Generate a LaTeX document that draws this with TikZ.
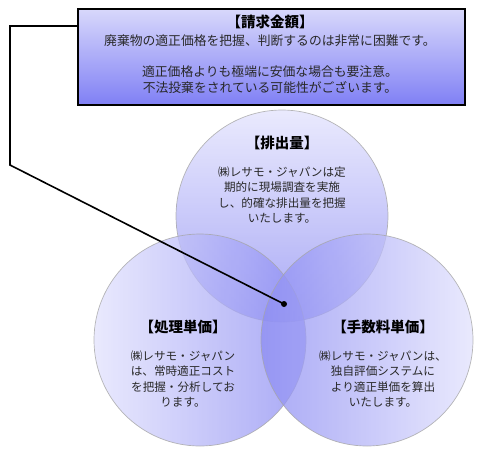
\documentclass[tikz,border=0pt]{standalone}
\usepackage{fontspec}
\newfontfamily\jp{Noto Sans CJK JP}
\usetikzlibrary{calc}
\definecolor{lite}{RGB}{226,226,253}
\definecolor{dark}{RGB}{140,140,242}
\definecolor{boxtop}{RGB}{216,216,251}
\definecolor{boxbot}{RGB}{128,128,245}
\definecolor{txt}{RGB}{40,40,40}
\tikzset{
  venn/.style={circle, minimum size=212pt, inner sep=0pt, draw=gray!70, line width=0.7pt, fill opacity=0.75, draw opacity=0.8},
  ttl/.style={font=\jp\bfseries\fontsize{14.5}{16}\selectfont, text=black, align=center},
  body/.style={font=\jp\fontsize{11.6}{15.4}\selectfont, text=txt, align=center},
  conn/.style={line width=1.6pt, black},
}
\begin{document}
\begin{tikzpicture}[x=1pt,y=-1pt]
\useasboundingbox (0,0) rectangle (500,451);
% circles
\node[venn, top color=lite, bottom color=dark] (top) at (282,216) {};
\node[venn, left color=lite, right color=dark] (lft) at (200,340) {};
\node[venn, left color=dark, right color=lite] (rgt) at (367,340) {};
% box
\node[draw=black, line width=1.6pt, top color=boxtop, bottom color=boxbot,
      minimum width=387pt, minimum height=96pt, inner sep=0pt, anchor=north west] (box) at (77,8) {};
\node[ttl] (boxt) at (270,22) {【請求金額】};
\node[body, font=\jp\fontsize{12.8}{15.5}\selectfont] (boxb) at (270,64) {廃棄物の適正価格を把握、判断するのは非常に困難です。\\[15.5pt]適正価格よりも極端に安価な場合も要注意。\\不法投棄をされている可能性がございます。};
% circle texts
\node[ttl] (topt) at (282,143) {【排出量】};
\node[body] (topb) at (282,195) {㈱レサモ・ジャパンは定\\期的に現場調査を実施\\し、的確な排出量を把握\\いたします。};
\node[ttl] (lftt) at (183,327) {【処理単価】};
\node[body] (lftb) at (183,379) {㈱レサモ・ジャパン\\は、常時適正コスト\\を把握・分析してお\\ります。};
\node[ttl] (rgtt) at (383,327) {【手数料単価】};
\node[body] (rgtb) at (383,379) {㈱レサモ・ジャパンは、\\独自評価システムに\\より適正単価を算出\\いたします。};
% connector
\coordinate (dot) at (284,304);
\coordinate (c1) at (10,26);
\coordinate (c2) at (10,165);
\draw[conn, line join=miter] (box.west |- c1) -- (c1) -- (c2) -- (dot);
\fill (dot) circle (3pt);
\end{tikzpicture}
\end{document}
